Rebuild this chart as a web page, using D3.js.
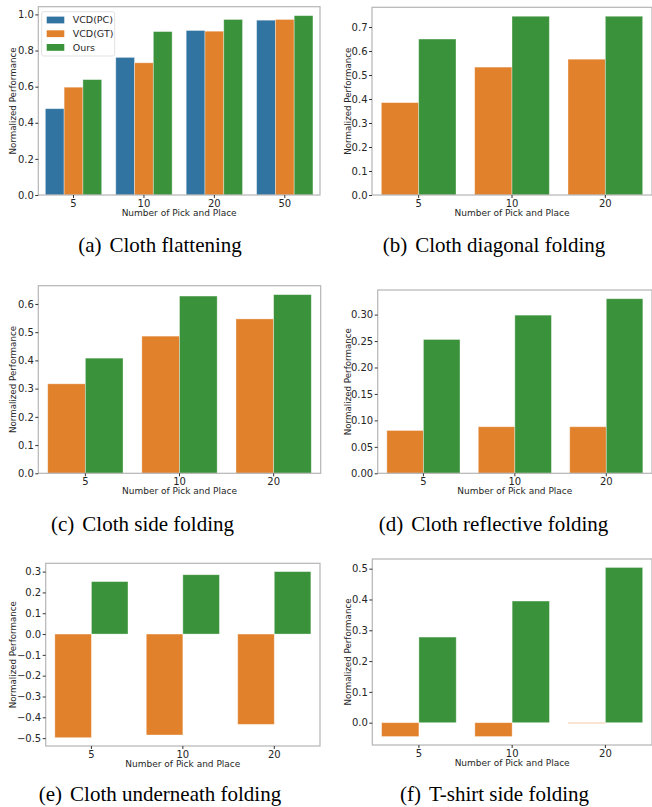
<!DOCTYPE html>
<html>
<head>
<meta charset="utf-8">
<script src="https://cdn.jsdelivr.net/npm/d3@7"></script>
<style>
  body { margin: 0; background: #fff; }
  svg { display: block; }
  .tick text { font-family: "DejaVu Sans", sans-serif; font-size: 10px; fill: #262626; }
  .tick line { stroke: #333; }
</style>
</head>
<body>
<svg id="chart" width="652" height="807"></svg>
<script>
// series + colours (seaborn tab10, desaturated)
const seriesNames = ["VCD(PC)", "VCD(GT)", "Ours"];
const seriesColors = ["#3274a1", "#e1812c", "#3a923a"];

const picksA = ["5", "10", "20", "50"];
const picks = ["5", "10", "20"];

// (a) cloth flattening
const flattenPC = [0.478, 0.762, 0.911, 0.968];
const flattenGT = [0.597, 0.732, 0.907, 0.972];
const flattenOurs = [0.639, 0.905, 0.972, 0.993];
// (b) diagonal folding
const diagGT = [0.385, 0.533, 0.566];
const diagOurs = [0.650, 0.745, 0.745];
// (c) side folding
const sideGT = [0.317, 0.486, 0.547];
const sideOurs = [0.408, 0.628, 0.633];
// (d) reflective folding
const reflGT = [0.081, 0.088, 0.088];
const reflOurs = [0.253, 0.299, 0.330];
// (e) underneath folding
const underGT = [-0.498, -0.485, -0.434];
const underOurs = [0.252, 0.285, 0.300];
// (f) t-shirt side folding
const tshirtGT = [-0.045, -0.045, -0.002];
const tshirtOurs = [0.278, 0.395, 0.504];

// y tick labels
const ticksA = [0, 0.2, 0.4, 0.6, 0.8, 1.0];
const ticksB = [0, 0.1, 0.2, 0.3, 0.4, 0.5, 0.6, 0.7];
const ticksC = [0, 0.1, 0.2, 0.3, 0.4, 0.5, 0.6];
const ticksD = [0, 0.05, 0.10, 0.15, 0.20, 0.25, 0.30];
const ticksE = [-0.5, -0.4, -0.3, -0.2, -0.1, 0, 0.1, 0.2, 0.3];
const ticksF = [0, 0.1, 0.2, 0.3, 0.4, 0.5];

const captionTags = ["(a)", "(b)", "(c)", "(d)", "(e)", "(f)"];
const captionTexts = ["Cloth flattening", "Cloth diagonal folding", "Cloth side folding",
  "Cloth reflective folding", "Cloth underneath folding", "T-shirt side folding"];

const panels = [
  { cats: picksA, data: [flattenPC, flattenGT, flattenOurs], col: [0, 1, 2], ticks: ticksA, fmt: ".1f", legend: true },
  { cats: picks, data: [diagGT, diagOurs], col: [1, 2], ticks: ticksB, fmt: ".1f" },
  { cats: picks, data: [sideGT, sideOurs], col: [1, 2], ticks: ticksC, fmt: ".1f" },
  { cats: picks, data: [reflGT, reflOurs], col: [1, 2], ticks: ticksD, fmt: ".2f" },
  { cats: picks, data: [underGT, underOurs], col: [1, 2], ticks: ticksE, fmt: ".1f" },
  { cats: picks, data: [tshirtGT, tshirtOurs], col: [1, 2], ticks: ticksF, fmt: ".1f" }
];

// plot boxes on the page
const boxes = [
  { x0: 38.3, x1: 320, y0: 6.7, y1: 195, ylab: 13.3, capX: 160, capY: 252 },
  { x0: 372, x1: 652, y0: 7.3, y1: 195, ylab: 347.5, capX: 494, capY: 252 },
  { x0: 38.3, x1: 320.7, y0: 285.7, y1: 473.3, ylab: 13.3, capX: 142.5, capY: 531 },
  { x0: 377.7, x1: 652, y0: 290, y1: 473.3, ylab: 347.7, capX: 493.5, capY: 531 },
  { x0: 45.7, x1: 320, y0: 563.3, y1: 746, ylab: 13.3, capX: 160, capY: 801 },
  { x0: 372.3, x1: 652, y0: 559, y1: 745, ylab: 347.7, capX: 494.5, capY: 801 }
];

const svg = d3.select("#chart");

panels.forEach((p, i) => {
  const b = boxes[i];
  const all = p.data.flat();
  let lo = Math.min(0, d3.min(all)), hi = Math.max(0, d3.max(all));
  const pad = (hi - lo) * 0.05;
  if (lo < 0) lo -= pad;
  hi += pad;

  const x = d3.scaleBand().domain(p.cats).range([b.x0, b.x1]).paddingInner(0.2).paddingOuter(0.1);
  const xs = d3.scaleBand().domain(d3.range(p.data.length)).range([0, x.bandwidth()]);
  const y = d3.scaleLinear().domain([lo, hi]).range([b.y1, b.y0]);

  const g = svg.append("g");

  p.data.forEach((vals, s) => {
    g.selectAll(null)
      .data(vals)
      .enter()
      .append("rect")
      .attr("x", (d, j) => x(p.cats[j]) + xs(s))
      .attr("width", xs.bandwidth())
      .attr("y", d => y(Math.max(0, d)))
      .attr("height", d => Math.abs(y(d) - y(0)))
      .attr("fill", seriesColors[p.col[s]])
      .attr("stroke", "rgba(255,255,255,0.45)")
      .attr("stroke-width", 0.8);
  });

  // frame
  g.append("rect")
    .attr("x", b.x0).attr("y", b.y0)
    .attr("width", b.x1 - b.x0).attr("height", b.y1 - b.y0)
    .attr("fill", "none").attr("stroke", "#b5b5b5").attr("stroke-width", 1.2);

  g.append("g")
    .attr("transform", `translate(${b.x0},0)`)
    .call(d3.axisLeft(y).tickValues(p.ticks).tickFormat(d3.format(p.fmt)).tickSize(3).tickPadding(1.5))
    .call(a => a.select(".domain").remove());

  g.append("g")
    .attr("transform", `translate(0,${b.y1})`)
    .call(d3.axisBottom(x).tickSize(3).tickPadding(1.5))
    .call(a => a.select(".domain").remove());

  g.append("text")
    .attr("x", (b.x0 + b.x1) / 2).attr("y", b.y1 + 20.5)
    .attr("text-anchor", "middle")
    .style("font-family", "DejaVu Sans, sans-serif").style("font-size", "9px").style("fill", "#262626")
    .text("Number of Pick and Place");

  g.append("text")
    .attr("transform", `translate(${b.ylab},${(b.y0 + b.y1) / 2}) rotate(-90)`)
    .attr("text-anchor", "middle").attr("dy", "0.35em")
    .style("font-family", "DejaVu Sans, sans-serif").style("font-size", "8.7px").style("fill", "#262626")
    .text("Normalized Performance");

  const cap = g.append("text")
    .attr("x", b.capX).attr("y", b.capY)
    .attr("text-anchor", "middle")
    .style("font-family", "Liberation Serif, Times New Roman, serif").style("font-size", "21px").style("fill", "#000");
  cap.append("tspan").text(captionTags[i]);
  cap.append("tspan").attr("dx", 8).text(captionTexts[i]);

  if (p.legend) {
    const lg = g.append("g").attr("transform", `translate(${b.x0 + 3.4},${b.y0 + 5})`);
    lg.append("rect")
      .attr("width", 73).attr("height", 44.3).attr("rx", 2)
      .attr("fill", "rgba(255,255,255,0.8)").attr("stroke", "#d9d9d9").attr("stroke-width", 0.8);
    seriesNames.forEach((name, k) => {
      const cy = 8.3 + k * 13.7;
      lg.append("rect")
        .attr("x", 5).attr("y", cy - 3.4).attr("width", 17.6).attr("height", 6.8)
        .attr("fill", seriesColors[k]);
      lg.append("text")
        .attr("x", 31).attr("y", cy).attr("dy", "0.35em")
        .style("font-family", "DejaVu Sans, sans-serif").style("font-size", "9.5px").style("fill", "#262626")
        .text(name);
    });
  }
});
</script>
</body>
</html>
